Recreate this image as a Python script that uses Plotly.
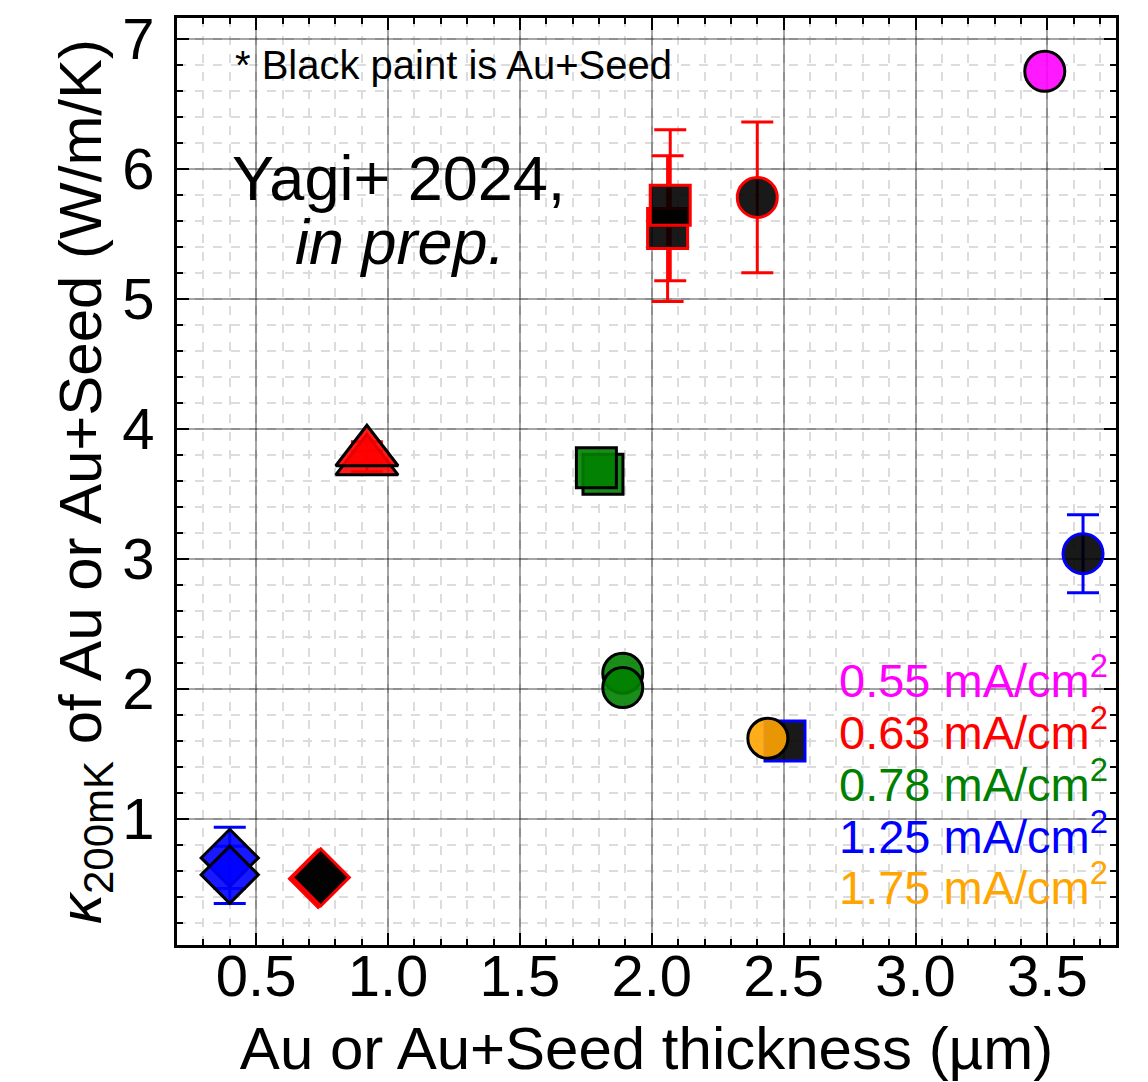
import plotly.graph_objects as go

FONT = "Liberation Sans, Arial, Helvetica, sans-serif"

# ---- data ----
mag_circ_x = [3.49]
mag_circ_y = [6.75]

red_circ_x = [2.40]
red_circ_y = [5.78]
red_circ_err = [0.58]

red_sq_x = [2.06, 2.07]
red_sq_y = [5.54, 5.72]
red_sq_err = [0.56, 0.58]

red_tri_x = [0.92, 0.92]
red_tri_y = [3.75, 3.82]
red_tri_err = [0.08, 0.08]

red_dia_x = [0.735, 0.745]
red_dia_y = [0.54, 0.55]

grn_sq_x = [1.815, 1.79]
grn_sq_y = [3.65, 3.70]

grn_circ_x = [1.89, 1.89]
grn_circ_y = [2.12, 2.01]

blu_sq_x = [2.505]
blu_sq_y = [1.60]

org_circ_x = [2.44]
org_circ_y = [1.62]

blu_dia_x = [0.40, 0.40]
blu_dia_y = [0.70, 0.57]
blu_dia_err = [0.235, 0.22]

blu_circ_x = [3.635]
blu_circ_y = [3.04]
blu_circ_err = [0.30]

legend_labels = ["0.55", "0.63", "0.78", "1.25", "1.75"]
legend_colors = ["magenta", "red", "green", "blue", "orange"]

x_ticks = [0.5, 1.0, 1.5, 2.0, 2.5, 3.0, 3.5]
y_ticks = [1, 2, 3, 4, 5, 6, 7]

BLACK_FILL = "rgba(0,0,0,0.9)"
FILLS = {
    "magenta": "rgba(255,0,255,0.9)",
    "red": "rgba(255,0,0,0.9)",
    "green": "rgba(0,128,0,0.9)",
    "blue": "rgba(0,0,255,0.9)",
    "orange": "rgba(255,165,0,0.9)",
}

fig = go.Figure()


def add(x, y, symbol, fill, edge, size, err=None, errcolor=None):
    kw = {}
    if err is not None:
        kw["error_y"] = dict(type="data", array=err, visible=True,
                             color=errcolor, thickness=3, width=16)
    fig.add_trace(go.Scatter(
        x=x, y=y, mode="markers", showlegend=False,
        marker=dict(symbol=symbol, size=size, color=fill,
                    line=dict(color=edge, width=3)),
        **kw))


add(mag_circ_x, mag_circ_y, "circle", FILLS["magenta"], "black", 40)
add(red_circ_x, red_circ_y, "circle", BLACK_FILL, "red", 40, red_circ_err, "red")
add(red_sq_x, red_sq_y, "square", BLACK_FILL, "red", 40, red_sq_err, "red")
add(red_tri_x, red_tri_y, "triangle-up", FILLS["red"], "black", 54, red_tri_err, "red")
add(red_dia_x, red_dia_y, "diamond", BLACK_FILL, "red", 44)
add(grn_sq_x, grn_sq_y, "square", FILLS["green"], "black", 40)
add(grn_circ_x, grn_circ_y, "circle", FILLS["green"], "black", 40)
add(blu_sq_x, blu_sq_y, "square", BLACK_FILL, "blue", 40)
add(org_circ_x, org_circ_y, "circle", FILLS["orange"], "black", 40)
add(blu_dia_x, blu_dia_y, "diamond", FILLS["blue"], "black", 44, blu_dia_err, "blue")
add(blu_circ_x, blu_circ_y, "circle", BLACK_FILL, "blue", 40, blu_circ_err, "blue")

# layout geometry in pixels
W, H = 1148, 1082
L, R, T, B = 177, 32, 18, 137
PW, PH = W - L - R, H - T - B


def px(xp):
    return (xp - L) / PW


def py(yp):
    return (H - B - yp) / PH


annotations = [
    dict(text="* Black paint is Au+Seed", x=px(233), y=py(65), xanchor="left",
         yanchor="middle", font=dict(size=40, color="black")),
    dict(text="Yagi+ 2024,", x=px(398), y=py(178), xanchor="center",
         yanchor="middle", font=dict(size=63, color="black")),
    dict(text="<i>in prep.</i>", x=px(400), y=py(242), xanchor="center",
         yanchor="middle", font=dict(size=63, color="black")),
]
leg_y = [677, 729, 781, 833, 884]
for lab, col, yy in zip(legend_labels, legend_colors, leg_y):
    annotations.append(dict(text=f"{lab} mA/cm<sup>2</sup>", x=px(1110), y=py(yy),
                            xanchor="right", yanchor="middle",
                            font=dict(size=47, color=col)))
for a in annotations:
    a.update(xref="paper", yref="paper", showarrow=False)

axis_common = dict(
    showline=True, linecolor="black", linewidth=3, mirror="allticks",
    ticks="inside", ticklen=12, tickwidth=2, tickcolor="black",
    showgrid=True, gridcolor="rgba(0,0,0,0.35)", gridwidth=1.5,
    zeroline=False, automargin=False,
    tickfont=dict(size=58, color="black", family=FONT),
)

fig.update_layout(
    width=W, height=H,
    margin=dict(l=L, r=R, t=T, b=B, autoexpand=False),
    paper_bgcolor="white", plot_bgcolor="white",
    font=dict(family=FONT, color="black"),
    annotations=annotations,
    xaxis=dict(
        range=[0.2, 3.76], tickvals=x_ticks,
        ticktext=[f"{v:.1f}" for v in x_ticks],
        ticklabelstandoff=-22,
        minor=dict(dtick=0.1, tick0=0, ticks="inside", ticklen=6, tickwidth=1.5,
                   tickcolor="black", showgrid=True, gridcolor="#dcdcdc",
                   griddash="dash", gridwidth=1.5),
        title=dict(text="Au or Au+Seed thickness (µm)", font=dict(size=60),
                   standoff=21),
        **axis_common,
    ),
    yaxis=dict(
        range=[0.03, 7.16], tickvals=y_ticks,
        ticktext=[str(v) for v in y_ticks],
        ticklabelstandoff=8,
        minor=dict(dtick=0.2, tick0=0, ticks="inside", ticklen=6, tickwidth=1.5,
                   tickcolor="black", showgrid=True, gridcolor="#dcdcdc",
                   griddash="dash", gridwidth=1.5),
        title=dict(text="<i>κ</i><sub>200mK</sub> of Au or Au+Seed (W/m/K)",
                   font=dict(size=60), standoff=0),
        **axis_common,
    ),
)

fig.write_html("out.html")
